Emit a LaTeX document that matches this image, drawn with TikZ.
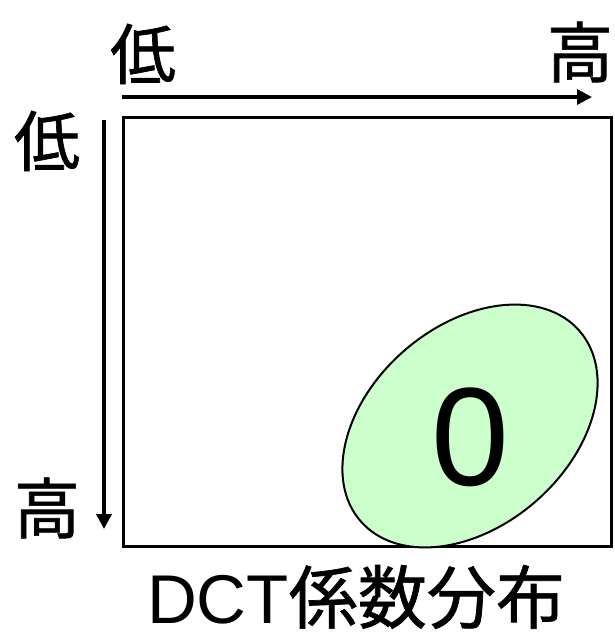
\documentclass[tikz,border=0pt]{standalone}
\usepackage{fontspec}
\usetikzlibrary{arrows.meta}
\newfontfamily\jpfont[FakeBold=1]{Noto Sans CJK JP}
\setmainfont{Liberation Sans}
\definecolor{lightgreen}{RGB}{204,255,204}
\begin{document}
\begin{tikzpicture}[x=1pt,y=-1pt,
  lbl/.style={font=\jpfont\fontsize{66}{66}\selectfont, inner sep=0pt},
  axis/.style={line width=3.5pt,-{Triangle[length=15pt,width=15pt]}}]
\useasboundingbox (0,0) rectangle (615,637);
\draw[line width=3pt] (123,117) rectangle (611,546);
\draw[fill=lightgreen, line width=2pt, rotate around={41:(470,426)}] (470,426) ellipse [x radius=145, y radius=100];
\node[inner sep=0pt, font=\fontsize{140}{140}\selectfont] (zero) at (470,437) {0};
\coordinate (h0) at (122,97);
\coordinate (h1) at (592,97);
\coordinate (v0) at (104,120);
\coordinate (v1) at (104,529);
\draw[axis] (h0) -- (h1);
\draw[axis] (v0) -- (v1);
\node[lbl] (tlow) at (143,54) {低};
\node[lbl] (thigh) at (580,52) {高};
\node[lbl] (llow) at (47,141) {低};
\node[lbl] (lhigh) at (47,508) {高};
\node[inner sep=0pt] (title) at (356,597) {\fontsize{69}{69}\selectfont DCT\jpfont 係数分布};
\end{tikzpicture}
\end{document}
